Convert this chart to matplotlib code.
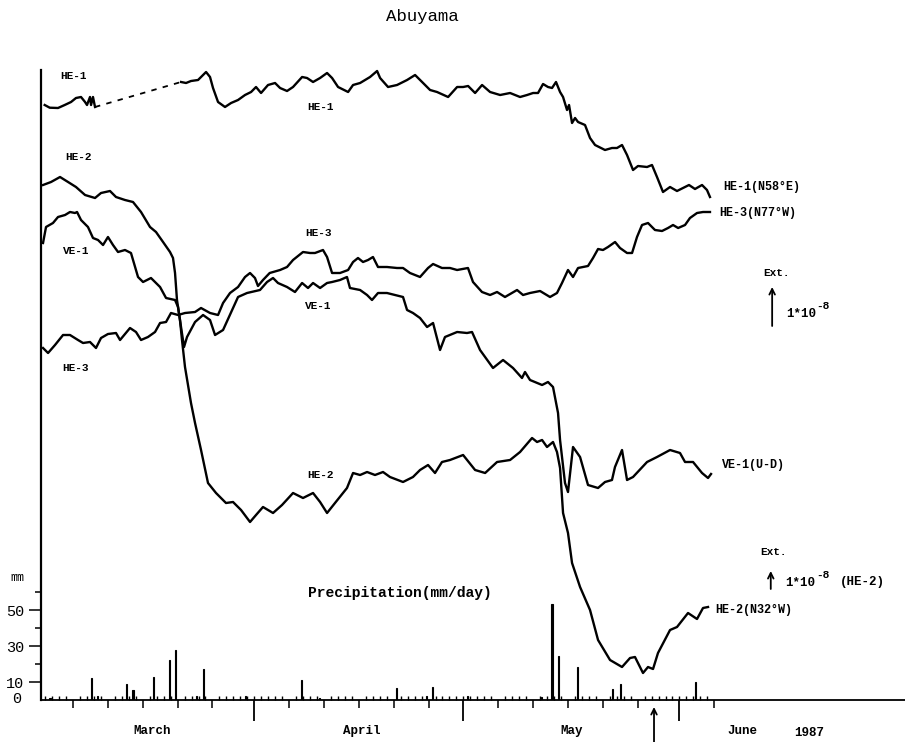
import matplotlib
matplotlib.use("Agg")
import matplotlib.pyplot as plt

plt.rcParams['font.family'] = ['Liberation Mono', 'DejaVu Sans']

# ---------------- data (x: days since 1 March 1987, y: trace level in chart rows) ----------------
he1_a_day = [0.93, 1.65, 2.84, 3.80, 4.71, 5.42, 6.14, 6.72, 7.00, 7.43, 7.58, 7.86, 8.15]
he1_a_lvl = [105, 107.7, 108, 105, 102, 98, 97, 102, 105, 97, 105, 97, 107]

he1_b_day = [20.49, 21.21, 21.92, 22.93, 23.65, 24.08, 24.65, 25.08, 25.80, 26.80, 27.67, 28.67,
             29.67, 30.54, 31.25, 31.97, 32.97, 33.98, 34.70, 35.70, 36.56, 37.86, 38.57, 39.43,
             40.44, 41.44, 42.16, 43.02, 44.46, 45.17, 46.18, 47.61, 48.62, 49.05, 50.19, 51.48,
             52.92, 54.07, 55.22, 56.22, 57.22, 58.81, 60.10, 60.96, 61.68, 62.68, 63.68, 64.83,
             66.27, 67.70, 69.13, 70.14, 71.00, 71.71, 72.43, 73.14, 73.72, 74.29, 74.87, 75.30,
             75.87, 76.16, 76.59, 77.02, 77.45, 78.45, 79.17, 79.89, 81.32, 82.32, 83.04, 83.76,
             84.48, 85.34, 86.05, 87.35, 88.06, 88.78, 89.64, 90.65, 91.65, 92.51, 93.37, 94.23,
             95.24, 95.95, 96.38]
he1_b_lvl = [82, 83, 81, 80, 75, 72, 77, 88, 102, 107, 103, 100,
             95, 92, 87, 93, 85, 83, 88, 91, 87, 77, 78, 82,
             78, 73, 78, 87, 92, 85, 83, 77, 71, 78, 87, 85,
             80, 75, 83, 90, 92, 97, 87, 87, 86, 93, 85, 92,
             95, 93, 97, 95, 93, 93, 84, 87, 88, 82, 92, 97,
             110, 105, 123, 118, 122, 125, 138, 145, 150, 148, 148, 145,
             155, 170, 166, 167, 165, 177, 192, 187, 191, 188, 185, 189,
             185, 190, 197]

he2_day = [0.69, 1.84, 3.13, 4.28, 5.42, 6.72, 8.15, 9.01, 10.30, 11.16, 12.45, 13.60, 14.75,
           16.04, 16.90, 17.91, 18.91, 19.34, 19.63, 19.91, 20.34, 20.63, 21.06, 21.92, 22.50,
           23.36, 24.36, 25.51, 26.94, 27.95, 29.10, 30.39, 31.25, 32.25, 32.97, 33.69, 34.98,
           36.56, 37.99, 39.43, 40.44, 41.44, 42.58, 44.30, 45.17, 46.18, 47.18, 48.32, 49.47,
           50.47, 52.34, 53.77, 54.78, 55.93, 56.93, 57.93, 59.08, 60.96, 62.68, 64.12, 65.83,
           67.70, 69.13, 70.85, 71.57, 72.29, 73.00, 73.86, 74.43, 74.87, 75.30, 76.01, 76.59,
           77.74, 79.17, 80.32, 82.04, 83.76, 84.91, 85.62, 86.77, 87.49, 88.21, 88.92, 90.65,
           91.65, 93.23, 94.52, 95.38, 96.10]
he2_lvl = [185, 182, 177, 182, 187, 195, 198, 193, 191, 197, 200, 202, 212,
           227, 232, 242, 252, 258, 273, 300, 320, 340, 367, 403, 423,
           450, 483, 493, 503, 502, 510, 522, 515, 507, 510, 513, 505,
           493, 498, 493, 502, 513, 503, 488, 473, 475, 472, 475, 472,
           477, 482, 477, 470, 465, 473, 462, 460, 455, 470, 473, 462,
           460, 452, 438, 442, 440, 447, 442, 452, 468, 513, 533, 563,
           587, 610, 640, 660, 667, 658, 657, 673, 667, 669, 653, 630,
           627, 613, 619, 608, 607]

he3_day = [0.69, 1.41, 2.41, 3.56, 4.56, 5.71, 6.43, 7.43, 8.29, 9.01, 10.01, 11.16, 11.74,
           13.17, 14.03, 14.75, 15.75, 16.76, 17.48, 18.34, 19.05, 20.06, 21.06, 22.50, 23.36,
           24.65, 25.80, 26.52, 27.52, 28.67, 29.67, 30.39, 31.10, 31.53, 32.25, 33.21, 34.70,
           35.70, 36.56, 37.99, 39.00, 39.71, 40.86, 41.44, 42.16, 43.30, 44.46, 45.17, 45.88,
           46.60, 47.32, 48.03, 48.75, 50.04, 51.48, 52.34, 53.34, 54.78, 55.93, 56.65, 57.93,
           59.08, 60.10, 61.66, 62.38, 63.67, 64.83, 65.83, 66.97, 68.70, 69.56, 70.56, 72.00,
           73.43, 74.43, 75.15, 76.01, 76.73, 77.45, 78.88, 79.60, 80.32, 81.03, 81.75, 82.76,
           83.47, 84.48, 85.20, 85.91, 86.63, 87.49, 88.49, 89.50, 90.36, 91.08, 91.81, 92.80,
           93.51, 94.52, 95.38, 96.38]
he3_lvl = [348, 353, 345, 335, 335, 340, 343, 342, 348, 338, 334, 333, 340,
           328, 332, 340, 337, 332, 323, 322, 313, 315, 313, 312, 308,
           313, 315, 303, 293, 287, 277, 273, 278, 286, 280, 273, 270,
           267, 260, 252, 253, 253, 250, 257, 273, 273, 270, 262, 258,
           262, 260, 257, 267, 267, 268, 268, 273, 277, 268, 264, 268,
           268, 270, 268, 282, 292, 295, 292, 297, 290, 295, 293, 291,
           297, 293, 283, 270, 277, 268, 266, 258, 249, 250, 247, 242,
           248, 253, 253, 237, 225, 223, 230, 231, 228, 225, 228, 225,
           218, 213, 212, 212]

ve1_day = [0.69, 1.12, 2.12, 2.84, 3.85, 4.56, 5.28, 5.57, 6.14, 7.14, 7.86, 8.58, 9.30,
           10.01, 10.73, 11.45, 12.45, 13.31, 14.32, 15.04, 16.18, 17.48, 18.34, 19.63, 20.06,
           20.49, 20.92, 21.35, 22.50, 23.65, 24.65, 25.37, 26.52, 28.67, 29.96, 31.82, 32.83,
           33.69, 34.40, 35.70, 36.84, 37.86, 38.71, 39.43, 40.44, 41.44, 42.16, 43.30, 44.30,
           44.73, 46.18, 47.18, 47.89, 48.75, 50.04, 51.19, 52.34, 52.92, 53.77, 54.78, 55.79,
           56.65, 57.65, 58.36, 60.10, 61.52, 62.24, 63.39, 65.25, 66.69, 68.12, 69.41, 69.84,
           70.56, 72.29, 73.14, 73.86, 74.58, 74.87, 75.58, 76.01, 76.73, 77.74, 78.88, 80.32,
           81.32, 82.32, 82.75, 83.76, 84.48, 85.34, 87.35, 88.78, 90.65, 92.08, 92.80, 93.95,
           95.24, 96.10, 96.53]
ve1_lvl = [243, 227, 223, 217, 215, 212, 213, 212, 220, 227, 238, 240, 245,
           237, 245, 252, 250, 253, 277, 282, 278, 287, 298, 300, 307,
           327, 347, 337, 322, 315, 320, 335, 330, 297, 293, 290, 282,
           278, 283, 287, 292, 283, 288, 283, 288, 283, 282, 280, 277,
           288, 290, 295, 300, 293, 293, 295, 297, 310, 313, 318, 327,
           323, 350, 337, 332, 333, 332, 350, 368, 360, 368, 378, 372,
           380, 385, 382, 387, 413, 440, 483, 492, 447, 457, 485, 488,
           482, 480, 467, 450, 480, 477, 462, 457, 450, 453, 462, 462,
           473, 478, 474]

precip_day = [1.7, 7.6, 8.5, 12.7, 13.6, 16.5, 18.8, 19.7, 22.7, 23.7, 29.7, 37.8, 40.4,
              51.4, 55.7, 56.6, 61.6, 72.2, 73.7, 74.6, 77.4, 82.4, 83.5, 94.3]
precip_mm = [1, 12, 2, 9, 5.5, 13, 22, 28, 2, 17, 2, 11, 1,
             6.5, 2.5, 7.5, 2, 1.5, 53.5, 24.5, 18.5, 6, 9, 10]

five_day_ticks = [5, 10, 15, 20, 25, 36, 41, 46, 51, 56, 66, 71, 76, 81, 86, 97]
month_start_ticks = [31, 61, 92]
daily_ticks = list(range(1, 98))
precip_major = [10, 30, 50]
precip_minor = [20, 40, 60]
month_labels = ["March", "April", "May", "June"]
month_label_day = [16.3, 46.4, 76.6, 101.0]

# ---------------- figure ----------------
W, H = 905, 742
fig = plt.figure(figsize=(W / 100, H / 100), dpi=100)
L = 41 / W
AW = (W - 41) / W
XLIM = (0.40, 124.36)

def ftxt(x, y, s, **kw):
    fig.text(x / W, 1 - y / H, s, **kw)

ax = fig.add_axes([L, 0, AW, 1])
ax.set_xlim(*XLIM)
ax.set_ylim(H, 0)
ax.patch.set_alpha(0)
for sp in ['top', 'right', 'bottom']:
    ax.spines[sp].set_visible(False)
ax.spines['left'].set_linewidth(1.6)
ax.spines['left'].set_bounds(70, 700)
ax.set_xticks([])
ax.set_yticks([])

lw = 1.7
col = 'black'
ax.plot(he1_a_day, he1_a_lvl, color=col, lw=lw, solid_joinstyle='round')
ax.plot([he1_a_day[-1], he1_b_day[0]], [he1_a_lvl[-1], he1_b_lvl[0]], color=col, lw=1.3,
        ls=(0, (3, 3.5)))
ax.plot(he1_b_day, he1_b_lvl, color=col, lw=lw, solid_joinstyle='round')
ax.plot(he2_day, he2_lvl, color=col, lw=lw, solid_joinstyle='round')
ax.plot(he3_day, he3_lvl, color=col, lw=lw, solid_joinstyle='round')
ax.plot(ve1_day, ve1_lvl, color=col, lw=lw, solid_joinstyle='round')

# precipitation axes
pax = fig.add_axes([L, (H - 700) / H, AW, 108 / H])
pax.set_xlim(*XLIM)
pax.set_ylim(0, 60)
pax.patch.set_alpha(0)
pax.spines['top'].set_visible(False)
pax.spines['right'].set_visible(False)
pax.spines['left'].set_linewidth(1.4)
pax.spines['bottom'].set_linewidth(1.3)
pax.bar(precip_day, precip_mm, width=0.18, color=col, edgecolor=col, linewidth=0.8)
pax.set_xticks(five_day_ticks)
pax.set_xticks(daily_ticks, minor=True)
pax.tick_params(axis='x', which='major', length=6, width=1.1, direction='out', labelbottom=False)
pax.tick_params(axis='x', which='minor', length=3, width=1.0, direction='in')
pax.set_yticks(precip_major)
pax.set_yticklabels([str(v) for v in precip_major])
pax.set_yticks(precip_minor, minor=True)
pax.tick_params(axis='y', which='major', length=9, width=1.1, direction='out', labelsize=11, pad=3)
pax.tick_params(axis='y', which='minor', length=4.5, width=1.1, direction='out')

sec = pax.secondary_xaxis('bottom')
sec.set_xticks(month_start_ticks)
sec.set_xticklabels([''] * len(month_start_ticks))
sec.tick_params(axis='x', length=15, width=1.3, direction='out')
sec.spines['bottom'].set_visible(False)

# month labels
for lab, d in zip(month_labels, month_label_day):
    ax.text(d, 731, lab, ha='center', va='center', fontsize=9, fontweight='bold')
ax.text(110.6, 733, "1987", ha='center', va='center', fontsize=9, fontweight='bold')

# arrows
arr = dict(arrowstyle='->', lw=1.3, color=col, mutation_scale=10, shrinkA=0, shrinkB=0)
ax.annotate('', xy=(105.3, 287), xytext=(105.3, 326), arrowprops=arr)
ax.annotate('', xy=(105.1, 571), xytext=(105.1, 589), arrowprops=arr)
ax.annotate('', xy=(88.35, 707), xytext=(88.35, 742), arrowprops=arr, annotation_clip=False)

# texts
bold = dict(fontsize=8, fontweight='bold', va='center', ha='left')
ftxt(422, 16, "Abuyama", fontsize=12.5, ha='center', va='center')
ftxt(60, 76, "HE-1", **bold)
ftxt(65, 157, "HE-2", **bold)
ftxt(63, 251, "VE-1", **bold)
ftxt(62, 368, "HE-3", **bold)
ftxt(307, 107, "HE-1", **bold)
ftxt(305, 233, "HE-3", **bold)
ftxt(305, 306, "VE-1", **bold)
ftxt(307, 475, "HE-2", **bold)
end = dict(fontsize=8.5, fontweight='bold', va='center', ha='left')
ftxt(723, 187, "HE-1(N58°E)", **end)
ftxt(719, 213, "HE-3(N77°W)", **end)
ftxt(722, 465, "VE-1(U-D)", **end)
ftxt(715, 610, "HE-2(N32°W)", **end)
ftxt(763, 273, "Ext.", **bold)
ftxt(786, 314, "1*10", fontsize=9, fontweight='bold', va='center', ha='left')
ftxt(816, 306, "-8", fontsize=8, fontweight='bold', va='center', ha='left')
ftxt(760, 552, "Ext.", **bold)
ftxt(785, 583, "1*10", fontsize=9, fontweight='bold', va='center', ha='left')
ftxt(816, 575, "-8", fontsize=8, fontweight='bold', va='center', ha='left')
ftxt(840, 582, "(HE-2)", fontsize=9, fontweight='bold', va='center', ha='left')
ftxt(308, 593, "Precipitation(mm/day)", fontsize=10.5, fontweight='bold', va='center', ha='left')
ftxt(10, 578, "mm", fontsize=8.5, va='center', ha='left')
ftxt(21, 699, "0", fontsize=11, va='center', ha='right')

fig.savefig("out.png", dpi=100)
